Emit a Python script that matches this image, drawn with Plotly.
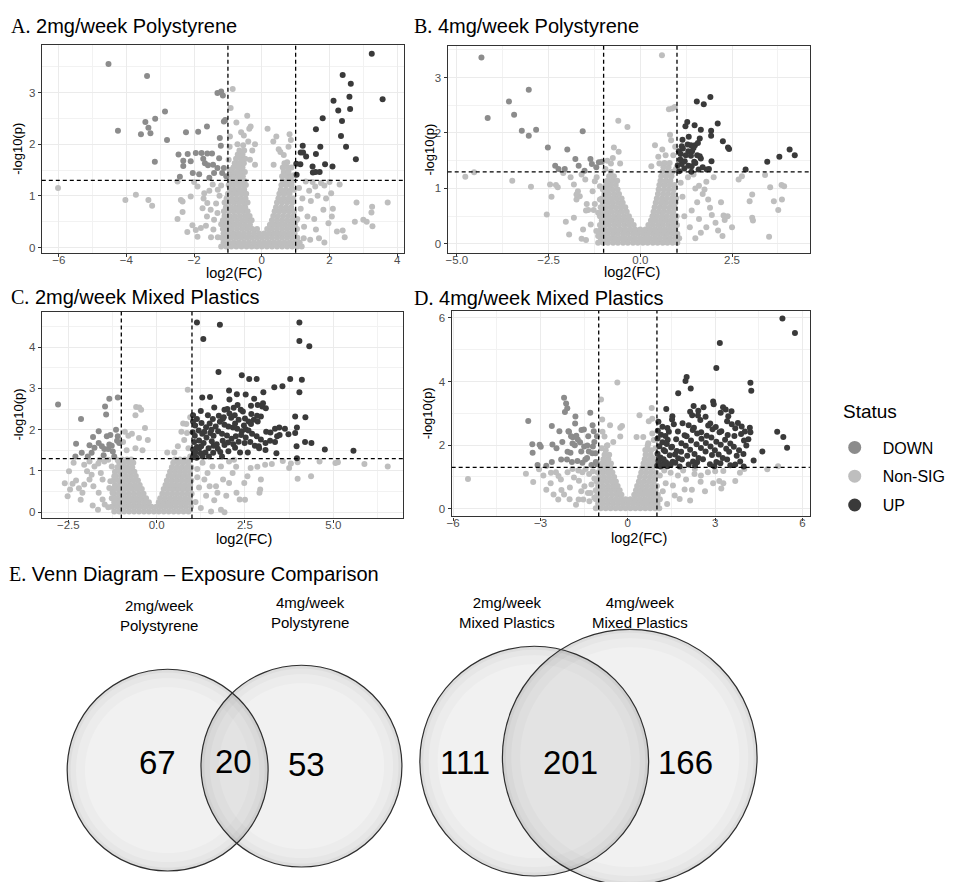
import math
import plotly.graph_objects as go

W, H = 964, 882

# significance thresholds used in every volcano panel
FC_CUT = 1.0
P_CUT = 1.3

STATUS = ["DOWN", "Non-SIG", "UP"]
STATUS_COLORS = {"DOWN": "#8c8c8c", "Non-SIG": "#bebebe", "UP": "#3a3a3a"}

PANEL_LETTERS = ["A.", "B.", "C.", "D."]
PANEL_NAMES = ["2mg/week Polystyrene", "4mg/week Polystyrene",
               "2mg/week Mixed Plastics", "4mg/week Mixed Plastics"]

# ---------------- Panel A: 2mg/week Polystyrene ----------------
A_up = [(3.25, 3.75), (2.39, 3.34), (2.63, 3.17), (2.59, 2.92), (2.61, 2.68), (3.57, 2.87),
        (2.12, 2.84), (2.26, 2.65), (2.37, 2.45), (1.80, 2.50), (1.60, 2.29), (2.34, 2.16),
        (2.49, 1.95), (2.78, 1.71), (1.21, 1.97), (1.73, 1.95), (1.15, 1.84), (1.22, 1.84),
        (1.31, 1.76), (1.60, 1.81), (1.87, 1.61), (2.09, 1.57), (1.50, 1.57), (1.02, 1.62),
        (1.14, 1.61), (1.51, 1.45), (1.59, 1.46), (1.71, 1.46), (1.03, 1.41)]
A_down = [(-4.53, 3.55), (-3.39, 3.32), (-4.25, 2.26), (-2.86, 2.63), (-3.44, 2.43), (-3.35, 2.32),
          (-3.57, 2.19), (-3.29, 2.21), (-3.15, 2.49), (-2.80, 2.08), (-3.16, 1.66), (-2.24, 2.23),
          (-1.88, 2.24), (-1.62, 2.34), (-2.46, 1.80), (-2.19, 1.81), (-2.32, 1.68), (-2.10, 1.67),
          (-2.32, 1.58), (-1.95, 1.83), (-1.78, 1.83), (-1.61, 1.82), (-1.47, 1.82), (-1.73, 1.72),
          (-1.68, 1.63), (-1.59, 1.59), (-1.44, 1.60), (-1.31, 2.99), (-1.20, 3.02), (-1.15, 2.94),
          (-1.08, 2.47), (-1.12, 2.44), (-1.24, 2.12), (-1.21, 1.97), (-1.26, 1.73), (-1.31, 1.54),
          (-1.41, 1.44), (-1.12, 1.54), (-1.17, 1.44), (-2.04, 1.44), (-2.42, 1.37), (-1.85, 1.42),
          (-1.55, 1.35), (-1.05, 1.38)]
A_ns = [(-6.02, 1.15), (-4.03, 0.92), (-3.72, 1.02), (-3.35, 0.92), (-3.24, 0.81), (-2.49, 1.28),
        (-2.39, 0.92), (-2.34, 0.89), (-2.34, 0.69), (-2.49, 0.55), (-2.10, 0.99), (-2.00, 1.27),
        (-1.90, 1.18), (-1.70, 1.05), (-1.75, 0.76), (-1.61, 0.86), (-1.51, 0.73), (-1.41, 0.54),
        (-1.90, 0.21), (-1.95, 0.34), (-2.05, 0.43), (-1.80, 0.38), (-1.31, 0.67), (-1.43, 0.35),
        (-1.30, 0.20), (-1.55, 1.10), (-1.45, 1.22), (-1.62, 0.60), (-1.25, 1.00), (-1.35, 0.85),
        (-1.20, 0.45), (-1.72, 0.95), (-1.20, 1.20), (-1.30, 1.12), (-2.20, 0.30), (-1.65, 0.42),
        (-1.50, 0.20), (-0.86, 3.07), (-0.92, 2.70), (-0.43, 2.55), (-0.75, 2.42), (-0.33, 2.34),
        (-0.37, 2.30), (-0.61, 2.23), (-0.53, 2.17), (-0.94, 2.15), (0.17, 2.30), (0.43, 2.15),
        (0.82, 2.19), (0.86, 2.08), (0.79, 1.95), (0.65, 1.79), (0.55, 1.85), (0.34, 2.05),
        (0.50, 1.90), (-0.40, 2.05), (-0.20, 2.00), (-0.55, 1.98), (-0.28, 1.88), (-0.72, 2.00),
        (-0.95, 1.95), (-0.98, 1.70), (-0.95, 1.50), (0.95, 1.40), (0.88, 1.55), (0.75, 1.65),
        (-0.35, 1.70), (-0.20, 1.60), (0.35, 1.60), (2.80, 0.87), (3.26, 0.79), (3.24, 0.68),
        (3.72, 0.87), (3.00, 0.54), (3.10, 0.50), (3.27, 0.41), (2.75, 0.50), (1.82, 0.73),
        (2.07, 0.60), (1.97, 0.47), (2.22, 0.31), (2.39, 0.33), (1.69, 0.18), (1.43, 0.15),
        (1.24, 0.18), (1.58, 1.18), (1.85, 1.20), (2.05, 1.05), (1.65, 1.00), (1.45, 0.90),
        (1.30, 1.28), (1.50, 1.27), (1.75, 1.25), (2.00, 1.27), (2.30, 1.22), (1.20, 0.95),
        (1.35, 0.60), (1.55, 0.55), (1.25, 0.40), (1.60, 0.35), (1.10, 1.15), (1.15, 0.75),
        (2.10, 0.75), (2.45, 0.20), (1.85, 0.10), (1.05, 0.55), (1.40, 1.10), (1.90, 0.95)]
# dense centre of the volcano, listed row by row as (-log10 p, [log2 FC ...])
A_ns_core = [
    (0.02, [-1.20, -1.05, -0.90, -0.75, -0.60, -0.45, -0.30, -0.15, 0.00, 0.15, 0.30, 0.45, 0.60, 0.75, 0.90, 1.05, 1.18]),
    (0.10, [-1.13, -0.98, -0.83, -0.68, -0.53, -0.38, -0.23, -0.08, 0.07, 0.22, 0.37, 0.52, 0.67, 0.82, 0.97, 1.12]),
    (0.19, [-1.18, -1.05, -0.90, -0.75, -0.60, -0.45, -0.30, -0.15, 0.00, 0.15, 0.30, 0.45, 0.60, 0.75, 0.90, 1.05]),
    (0.27, [-1.13, -0.98, -0.83, -0.68, -0.53, -0.38, -0.23, -0.08, 0.07, 0.22, 0.37, 0.52, 0.67, 0.82, 0.97]),
    (0.36, [-1.15, -1.02, -0.88, -0.73, -0.58, -0.43, -0.28, -0.14, 0.16, 0.30, 0.45, 0.60, 0.75, 0.90, 1.04]),
    (0.44, [-1.10, -0.95, -0.80, -0.65, -0.50, -0.35, 0.24, 0.38, 0.53, 0.68, 0.83, 0.98]),
    (0.53, [-1.15, -1.02, -0.88, -0.73, -0.58, -0.43, -0.30, 0.30, 0.45, 0.60, 0.75, 0.90, 1.02]),
    (0.61, [-1.10, -0.95, -0.80, -0.65, -0.50, -0.36, 0.34, 0.48, 0.63, 0.78, 0.93]),
    (0.70, [-1.12, -0.98, -0.84, -0.70, -0.56, -0.42, 0.38, 0.52, 0.67, 0.82, 0.95]),
    (0.78, [-1.06, -0.91, -0.77, -0.63, -0.49, 0.42, 0.57, 0.72, 0.87]),
    (0.87, [-1.10, -0.96, -0.82, -0.68, -0.54, -0.42, 0.45, 0.60, 0.75, 0.90]),
    (0.95, [-1.04, -0.89, -0.75, -0.61, -0.48, 0.49, 0.64, 0.79, 0.93]),
    (1.04, [-1.00, -0.86, -0.72, -0.58, -0.46, 0.52, 0.67, 0.82]),
    (1.12, [-0.94, -0.80, -0.66, -0.52, 0.56, 0.71, 0.86, 0.95]),
    (1.21, [-0.98, -0.85, -0.71, -0.58, -0.47, 0.58, 0.73, 0.88]),
    (1.29, [-0.92, -0.78, -0.64, -0.51, 0.62, 0.77, 0.90]),
    (1.38, [-0.94, -0.82, -0.69, -0.56, 0.60, 0.74, 0.86]),
    (1.46, [-0.88, -0.74, -0.61, -0.50, 0.65, 0.79]),
    (1.55, [-0.84, -0.70, -0.57, 0.62, 0.76]),
    (1.63, [-0.80, -0.66, -0.53, 0.67]),
    (1.72, [-0.76, -0.62, -0.49]),
    (1.80, [-0.71, -0.57]),
    (1.88, [-0.66, -0.52]),
]

# ---------------- Panel B: 4mg/week Polystyrene ----------------
B_up = [(1.28, 2.20), (1.54, 2.57), (1.73, 2.52), (1.91, 2.65), (2.11, 2.17), (1.93, 2.04),
        (1.93, 1.95), (2.25, 1.85), (2.39, 1.74), (2.42, 1.71), (1.23, 2.12), (1.48, 2.14),
        (1.65, 2.06), (1.62, 1.90), (1.32, 1.93), (1.15, 1.88), (1.13, 1.76), (1.38, 1.78),
        (1.49, 1.78), (1.05, 1.67), (1.31, 1.67), (1.41, 1.67), (1.24, 1.60), (1.38, 1.59),
        (1.62, 1.58), (1.65, 1.54), (1.47, 1.48), (1.50, 1.46), (1.13, 1.44), (1.31, 1.41),
        (1.40, 1.40), (1.59, 1.34), (1.81, 1.34), (1.87, 1.35), (1.94, 1.49), (1.06, 1.31),
        (1.39, 1.30), (2.87, 1.34), (3.46, 1.48), (3.79, 1.57), (4.07, 1.70), (4.21, 1.60),
        (1.16, 1.72), (1.29, 1.79), (1.45, 1.73), (1.57, 1.82), (1.09, 1.52), (1.21, 1.49),
        (1.02, 1.42), (1.70, 1.38), (1.20, 1.36), (1.55, 1.60), (1.10, 1.62)]
B_down = [(-4.33, 3.36), (-4.16, 2.27), (-3.58, 2.57), (-3.44, 2.33), (-3.04, 2.78), (-3.23, 2.04),
          (-3.04, 1.95), (-2.84, 2.06), (-2.52, 1.74), (-1.99, 1.70), (-2.32, 1.41), (-2.23, 1.35),
          (-2.06, 1.35), (-1.77, 1.53), (-1.68, 1.41), (-1.57, 2.03), (-1.36, 1.53), (-1.32, 1.44),
          (-1.52, 1.32), (-1.13, 1.47), (-1.05, 1.48), (-1.20, 1.38)]
B_ns = [(-4.77, 1.21), (-4.53, 1.29), (-3.49, 1.14), (-2.98, 1.03), (-2.46, 1.07), (-2.42, 0.85),
        (-2.30, 1.06), (-2.25, 1.02), (-2.55, 0.53), (-2.03, 0.40), (-1.94, 0.17), (-1.81, 0.47),
        (-1.74, 0.80), (-1.65, 0.86), (-1.74, 0.89), (-1.70, 0.95), (-1.81, 1.07), (-1.56, 0.26),
        (-1.60, 0.09), (-1.46, 0.72), (-1.48, 0.60), (-1.42, 0.61), (-1.24, 0.72), (-1.27, 0.61),
        (-1.15, 0.56), (-1.10, 1.04), (-1.19, 1.20), (-1.24, 1.13), (-1.50, 1.16), (-1.48, 0.07),
        (-1.20, 0.23), (-1.15, 0.14), (-1.05, 0.20), (-1.35, 0.35), (-1.10, 0.80), (-1.30, 0.95),
        (-1.90, 1.20), (-1.60, 1.25), (-2.10, 1.28), (0.59, 3.40), (-0.60, 2.22), (-0.35, 2.11),
        (0.78, 2.43), (0.87, 2.44), (0.94, 2.47), (0.81, 1.97), (0.84, 1.87), (0.40, 1.78),
        (-0.72, 1.74), (-0.59, 1.66), (0.49, 1.57), (0.52, 1.45), (0.69, 1.60), (-0.90, 1.50),
        (-0.80, 1.45), (-0.55, 1.45), (0.60, 1.70), (0.95, 1.75), (0.90, 1.60), (0.97, 1.35),
        (0.30, 1.40), (-0.75, 1.55), (-0.95, 1.35), (3.40, 1.24), (3.54, 1.02), (3.85, 1.06),
        (3.92, 1.04), (3.86, 0.80), (3.64, 0.77), (3.76, 0.61), (3.51, 0.13), (3.05, 0.89),
        (2.98, 0.77), (3.05, 0.47), (3.07, 0.42), (2.77, 1.22), (2.68, 1.16), (2.27, 0.51),
        (2.30, 0.43), (2.12, 0.24), (2.24, 0.14), (1.90, 0.65), (1.95, 0.52), (2.05, 0.38),
        (1.70, 0.90), (1.75, 0.98), (1.60, 1.05), (1.50, 1.00), (1.80, 1.12), (2.00, 1.20),
        (1.30, 1.20), (1.45, 1.25), (1.85, 0.80), (1.55, 0.75), (1.40, 0.60), (1.60, 0.45),
        (1.80, 0.30), (1.35, 0.30), (1.20, 0.50), (1.15, 0.85), (1.10, 1.10), (2.20, 0.75),
        (1.65, 0.20), (1.50, 0.10), (2.50, 0.30), (2.38, 0.50)]
B_ns_core = [
    (0.02, [-1.15, -1.01, -0.88, -0.74, -0.61, -0.47, -0.34, -0.20, -0.07, 0.07, 0.20, 0.34, 0.47, 0.61, 0.74, 0.88, 1.01]),
    (0.10, [-1.08, -0.95, -0.81, -0.68, -0.54, -0.41, -0.27, -0.14, 0.00, 0.14, 0.27, 0.41, 0.54, 0.68, 0.81, 0.95, 1.06]),
    (0.18, [-1.12, -1.01, -0.88, -0.74, -0.61, -0.47, -0.34, -0.20, -0.07, 0.07, 0.20, 0.34, 0.47, 0.61, 0.74, 0.88, 1.01]),
    (0.26, [-1.08, -0.95, -0.81, -0.68, -0.54, -0.41, -0.27, -0.14, 0.00, 0.14, 0.27, 0.41, 0.54, 0.68, 0.81, 0.95]),
    (0.34, [-1.10, -0.98, -0.85, -0.71, -0.58, -0.44, -0.31, -0.18, 0.22, 0.35, 0.49, 0.62, 0.76, 0.89, 1.00]),
    (0.42, [-1.05, -0.91, -0.78, -0.64, -0.51, -0.37, -0.25, 0.29, 0.42, 0.56, 0.69, 0.83, 0.96]),
    (0.50, [-1.10, -0.98, -0.85, -0.71, -0.58, -0.44, -0.31, 0.33, 0.46, 0.60, 0.73, 0.87, 0.99]),
    (0.58, [-1.04, -0.91, -0.78, -0.64, -0.51, -0.37, 0.36, 0.50, 0.63, 0.77, 0.90]),
    (0.66, [-1.08, -0.95, -0.81, -0.68, -0.54, -0.41, 0.39, 0.53, 0.66, 0.80, 0.93]),
    (0.74, [-1.02, -0.88, -0.75, -0.61, -0.48, 0.42, 0.56, 0.69, 0.83, 0.96]),
    (0.82, [-1.05, -0.92, -0.78, -0.65, -0.51, 0.45, 0.59, 0.72, 0.86, 0.98]),
    (0.90, [-0.98, -0.85, -0.71, -0.58, 0.48, 0.62, 0.75, 0.89]),
    (0.98, [-1.02, -0.89, -0.76, -0.62, 0.50, 0.64, 0.77, 0.91]),
    (1.06, [-0.94, -0.81, -0.67, 0.52, 0.66, 0.80, 0.93]),
    (1.14, [-0.90, -0.76, -0.63, 0.55, 0.69, 0.82]),
    (1.22, [-0.85, -0.72, 0.57, 0.71, 0.85]),
    (1.30, [-0.80, 0.60, 0.74, 0.88]),
    (1.38, [0.63, 0.77]),
    (1.46, [0.66, 0.80]),
]

# ---------------- Panel C: 2mg/week Mixed Plastics ----------------
C_up = [(1.14, 4.60), (1.79, 4.54), (1.32, 4.20), (4.04, 4.60), (4.04, 4.15), (4.32, 4.02),
        (1.75, 3.40), (2.41, 3.32), (2.62, 3.23), (2.83, 3.23), (3.33, 3.03), (3.56, 3.05),
        (3.78, 3.23), (4.11, 3.21), (4.04, 2.91), (1.29, 2.78), (1.51, 2.79), (2.05, 2.95),
        (2.27, 2.86), (2.52, 2.85), (3.02, 2.91), (2.76, 2.75), (2.06, 2.73), (3.01, 2.64),
        (2.99, 2.56), (3.09, 2.52), (2.67, 2.58), (2.86, 2.60), (2.29, 2.60), (2.18, 2.53),
        (2.38, 2.48), (2.44, 2.44), (1.63, 2.54), (1.92, 2.48), (2.06, 2.39), (1.76, 2.34),
        (1.59, 2.26), (1.87, 2.26), (2.11, 2.29), (2.21, 2.35), (2.32, 2.24), (2.50, 2.27),
        (2.68, 2.38), (2.75, 2.24), (2.84, 2.34), (2.95, 2.32), (2.86, 2.20), (2.67, 2.14),
        (2.47, 2.10), (2.22, 2.15), (2.28, 2.02), (2.41, 1.96), (2.52, 2.01), (2.60, 1.98),
        (2.16, 2.05), (2.03, 2.08), (1.92, 2.12), (1.79, 2.19), (1.67, 2.08), (1.50, 2.15),
        (1.40, 2.06), (1.27, 2.16), (1.03, 2.35), (1.14, 2.26), (1.03, 2.20), (1.09, 2.10),
        (1.02, 1.94), (1.08, 1.85), (1.19, 1.98), (1.29, 1.90), (1.41, 1.81), (1.52, 1.92),
        (1.61, 1.85), (1.74, 1.96), (1.85, 1.90), (1.99, 1.86), (2.12, 1.78), (2.24, 1.84),
        (2.39, 1.87), (2.52, 1.81), (2.70, 1.90), (2.83, 1.84), (2.95, 1.76), (3.08, 1.68),
        (3.21, 1.73), (3.22, 1.93), (3.35, 2.02), (3.47, 2.05), (3.41, 1.84), (3.35, 1.70),
        (3.48, 1.87), (3.63, 2.02), (3.73, 1.89), (3.92, 1.92), (3.97, 2.05), (4.21, 2.30),
        (3.92, 2.32), (4.20, 1.70), (3.96, 1.60), (3.97, 1.31), (4.38, 1.68), (4.76, 1.52),
        (5.57, 1.49), (3.39, 1.43), (2.89, 1.60), (3.08, 1.51), (2.78, 1.61), (2.65, 1.70),
        (2.49, 1.68), (2.36, 1.45), (2.22, 1.56), (2.03, 1.48), (1.92, 1.63), (1.80, 1.46),
        (1.73, 1.54), (1.61, 1.61), (1.47, 1.55), (1.38, 1.45), (1.25, 1.43), (1.14, 1.58),
        (1.03, 1.52), (1.05, 1.40), (1.13, 1.32), (1.30, 1.35), (1.48, 1.35), (1.60, 1.44),
        (1.85, 1.35), (1.06, 1.70), (1.20, 1.74), (1.33, 1.68), (1.56, 1.72), (1.87, 1.73),
        (2.02, 1.69), (2.17, 1.65), (2.32, 1.71), (1.26, 1.60), (1.02, 1.33), (1.10, 1.45),
        (1.20, 1.55), (1.35, 1.95), (1.55, 2.00), (1.70, 1.65), (2.58, 1.45), (2.90, 1.55),
        (3.10, 1.95), (2.60, 2.20), (2.00, 2.50), (1.90, 2.30), (1.45, 2.35), (1.25, 2.45)]
C_down = [(-2.79, 2.61), (-2.14, 2.26), (-2.28, 1.66), (-2.12, 1.44), (-1.80, 1.82), (-1.64, 1.68),
          (-1.46, 2.56), (-1.43, 2.37), (-1.34, 2.75), (-1.10, 2.78), (-1.41, 1.84), (-1.31, 1.87),
          (-1.55, 1.60), (-1.48, 1.53), (-1.37, 1.53), (-1.27, 1.61), (-1.24, 1.47), (-1.34, 1.64),
          (-1.10, 1.84), (-1.12, 1.73), (-1.06, 1.68), (-1.95, 1.35), (-1.84, 1.44), (-1.64, 1.96),
          (-1.76, 1.56), (-1.20, 1.35), (-1.50, 1.38), (-2.30, 1.35), (-1.90, 1.62), (-1.15, 2.00)]
C_ns = [(-2.52, 0.39), (-2.48, 0.99), (-2.38, 0.69), (-2.28, 0.77), (-2.20, 0.58), (-2.10, 0.47),
        (-2.05, 0.67), (-1.90, 0.79), (-1.84, 0.91), (-1.97, 0.99), (-1.76, 1.11), (-1.65, 1.18),
        (-1.58, 0.95), (-1.53, 0.79), (-1.79, 0.63), (-1.64, 0.47), (-1.53, 0.31), (-1.81, 0.16),
        (-1.66, 0.06), (-1.47, 0.19), (-1.37, 0.12), (-1.20, 0.31), (-1.25, 0.47), (-1.34, 0.59),
        (-1.31, 0.75), (-1.20, 0.87), (-1.27, 1.11), (-1.10, 1.26), (-1.02, 1.25), (-1.37, 1.27),
        (-1.48, 1.23), (-1.61, 1.27), (-1.90, 1.23), (-2.05, 1.15), (-2.35, 1.20), (-2.60, 0.70),
        (-2.45, 0.55), (-2.15, 0.30), (0.88, 2.97), (-0.58, 2.55), (-0.49, 2.54), (-0.44, 2.48),
        (-0.60, 2.35), (-0.33, 2.04), (-0.80, 1.85), (-0.90, 1.95), (-0.95, 1.70), (-0.70, 1.90),
        (-0.50, 1.80), (-0.25, 1.75), (0.75, 2.15), (0.84, 2.14), (0.86, 1.92), (0.78, 1.75),
        (0.60, 1.60), (0.90, 1.55), (0.95, 2.30), (0.70, 1.95), (0.50, 1.45), (0.30, 1.45),
        (-0.85, 1.50), (-0.60, 1.55), (-0.40, 1.50), (0.95, 1.35), (2.93, 0.55), (2.95, 0.79),
        (2.91, 0.47), (2.35, 0.31), (2.26, 0.47), (2.48, 0.71), (2.57, 0.87), (2.66, 1.07),
        (2.85, 1.10), (3.07, 1.15), (3.26, 1.17), (3.57, 1.24), (3.80, 1.18), (3.99, 1.21),
        (3.99, 0.81), (4.37, 0.87), (4.61, 1.23), (5.06, 1.19), (5.13, 1.21), (5.88, 1.17),
        (6.54, 1.11), (3.75, 1.07), (1.82, 0.06), (1.54, 0.02), (1.92, 0.00), (1.63, 0.29),
        (1.72, 0.47), (1.68, 0.63), (1.88, 0.79), (1.50, 0.63), (1.35, 0.79), (1.44, 0.95),
        (1.58, 1.11), (1.82, 1.11), (2.05, 1.23), (2.19, 1.27), (2.15, 0.95), (2.05, 0.71),
        (1.97, 0.40), (2.25, 1.10), (1.30, 1.20), (1.15, 1.05), (1.20, 0.60), (1.40, 0.40),
        (1.10, 0.25), (1.25, 0.10), (2.50, 0.30), (1.15, 0.85)]
C_ns_core = [
    (0.02, [-1.20, -1.06, -0.92, -0.78, -0.64, -0.50, -0.36, -0.22, -0.08, 0.06, 0.20, 0.34, 0.48, 0.62, 0.76, 0.90]),
    (0.13, [-1.27, -1.13, -0.99, -0.85, -0.71, -0.57, -0.43, -0.29, -0.15, -0.01, 0.13, 0.27, 0.41, 0.55, 0.69, 0.83, 0.97]),
    (0.24, [-1.20, -1.06, -0.92, -0.78, -0.64, -0.50, -0.36, -0.22, 0.06, 0.20, 0.34, 0.48, 0.62, 0.76, 0.90]),
    (0.34, [-1.27, -1.13, -0.99, -0.85, -0.71, -0.57, -0.43, -0.30, 0.10, 0.24, 0.38, 0.52, 0.66, 0.80, 0.94]),
    (0.45, [-1.20, -1.06, -0.92, -0.78, -0.64, -0.50, -0.37, 0.16, 0.30, 0.44, 0.58, 0.72, 0.86, 0.99]),
    (0.56, [-1.25, -1.11, -0.97, -0.83, -0.69, -0.55, -0.42, 0.20, 0.34, 0.48, 0.62, 0.76, 0.90]),
    (0.66, [-1.18, -1.04, -0.90, -0.76, -0.62, -0.48, 0.25, 0.39, 0.53, 0.67, 0.81, 0.95]),
    (0.77, [-1.22, -1.08, -0.94, -0.80, -0.66, -0.53, 0.29, 0.43, 0.57, 0.71, 0.85, 0.98]),
    (0.88, [-1.15, -1.01, -0.87, -0.73, -0.59, 0.34, 0.48, 0.62, 0.76, 0.90]),
    (0.98, [-1.18, -1.04, -0.90, -0.76, -0.63, 0.38, 0.52, 0.66, 0.80, 0.94]),
    (1.09, [-1.11, -0.97, -0.83, -0.69, 0.43, 0.57, 0.71, 0.85, 0.98]),
    (1.20, [-1.06, -0.92, -0.78, -0.66, 0.47, 0.61, 0.75, 0.89]),
    (1.28, [-0.98, -0.84, -0.72, 0.52, 0.66, 0.80, 0.94]),
]

# ---------------- Panel D: 4mg/week Mixed Plastics ----------------
D_up = [(5.31, 5.98), (5.74, 5.53), (3.16, 5.21), (3.04, 4.43), (2.02, 4.14), (1.98, 4.02),
        (2.16, 3.78), (1.73, 3.63), (4.21, 3.96), (4.24, 3.71), (1.32, 3.14), (1.53, 2.91),
        (2.26, 3.23), (2.42, 3.08), (2.60, 3.19), (2.14, 3.05), (2.21, 2.94), (2.93, 3.37),
        (2.95, 3.29), (3.27, 3.19), (3.36, 3.12), (3.56, 3.07), (3.19, 3.02), (3.45, 2.91),
        (2.67, 2.89), (2.41, 2.93), (5.13, 2.42), (5.34, 2.26), (5.47, 1.92), (4.62, 1.80),
        (4.32, 1.52),
        (1.05, 2.74), (1.52, 2.81), (1.88, 2.69), (2.49, 2.79), (2.83, 2.68), (3.41, 2.75), (3.78, 2.70),
        (1.19, 2.58), (1.58, 2.66), (2.09, 2.63), (2.27, 2.55), (2.76, 2.62), (3.02, 2.57), (3.57, 2.66),
        (3.91, 2.59), (4.19, 2.55), (1.03, 2.45), (1.36, 2.54), (1.72, 2.43), (2.23, 2.48), (2.52, 2.41),
        (2.91, 2.50), (3.21, 2.44), (3.69, 2.53), (4.02, 2.43), (1.14, 2.33), (1.41, 2.42), (1.95, 2.31),
        (2.38, 2.37), (2.71, 2.30), (3.15, 2.41), (3.43, 2.32), (3.89, 2.35), (4.21, 2.41), (1.02, 2.21),
        (1.29, 2.29), (1.66, 2.19), (2.02, 2.28), (2.53, 2.20), (2.87, 2.24), (3.34, 2.17), (3.66, 2.29),
        (4.14, 2.19), (1.19, 2.09), (1.37, 2.17), (1.84, 2.06), (2.17, 2.15), (2.68, 2.07), (3.04, 2.11),
        (3.52, 2.05), (3.99, 2.15), (1.08, 1.97), (1.34, 2.04), (1.52, 1.95), (1.99, 1.98), (2.36, 2.03),
        (2.84, 1.96), (3.19, 2.01), (3.64, 1.95), (4.07, 1.99), (1.23, 1.85), (1.49, 1.93), (1.68, 1.82),
        (2.14, 1.86), (2.51, 1.91), (2.99, 1.84), (3.38, 1.89), (3.82, 1.84), (1.02, 1.73), (1.28, 1.81),
        (1.62, 1.71), (1.83, 1.79), (2.29, 1.72), (2.67, 1.80), (3.12, 1.71), (3.48, 1.79), (3.97, 1.72),
        (1.12, 1.61), (1.44, 1.68), (1.73, 1.59), (2.04, 1.67), (2.43, 1.60), (2.89, 1.69), (3.26, 1.60),
        (3.74, 1.67), (1.05, 1.50), (1.23, 1.56), (1.54, 1.48), (1.86, 1.55), (2.24, 1.49), (2.58, 1.56),
        (3.04, 1.47), (3.41, 1.55), (3.86, 1.49), (1.08, 1.44), (1.17, 1.39), (1.31, 1.46), (1.42, 1.40),
        (1.63, 1.45), (2.09, 1.39), (2.38, 1.46), (2.82, 1.40), (3.18, 1.43), (3.69, 1.39), (1.01, 1.35),
        (1.12, 1.33), (1.22, 1.37), (1.36, 1.34), (1.47, 1.38), (1.78, 1.33), (2.31, 1.36), (2.97, 1.34),
        (3.52, 1.37), (3.98, 1.33)]
D_down = [(-3.42, 2.76), (-3.28, 2.03), (-3.03, 2.01), (-2.99, 1.95), (-3.27, 1.76), (-2.61, 2.60),
          (-2.59, 2.02), (-2.19, 3.49), (-2.12, 3.31), (-2.08, 3.16), (-2.16, 3.04), (-1.80, 2.90),
          (-1.81, 2.68), (-2.35, 2.44), (-2.04, 2.44), (-2.02, 2.42), (-1.95, 2.28), (-1.89, 2.25),
          (-1.77, 2.30), (-1.59, 2.48), (-1.51, 2.49), (-1.72, 2.18), (-1.64, 2.09), (-1.50, 1.96),
          (-1.39, 1.99), (-1.20, 1.96), (-1.34, 1.80), (-1.22, 1.75), (-1.11, 1.75), (-1.29, 3.02),
          (-1.21, 2.63), (-1.17, 2.44), (-1.82, 2.00), (-1.97, 1.76), (-2.07, 1.79), (-2.29, 1.55),
          (-2.09, 1.55), (-1.92, 1.47), (-1.73, 1.50), (-1.56, 1.45), (-1.46, 1.55), (-1.10, 1.47),
          (-1.06, 1.40), (-1.06, 2.28), (-1.36, 2.28), (-2.61, 1.47), (-2.45, 1.90), (-2.25, 2.10),
          (-1.90, 2.05), (-1.60, 1.80), (-1.40, 1.60), (-1.15, 2.10), (-2.80, 1.35), (-3.10, 1.38),
          (-1.25, 1.38)]
D_ns = [(-5.49, 0.94), (-3.25, 0.84), (-3.05, 1.24), (-2.64, 1.13), (-2.38, 1.03), (-2.30, 0.92),
        (-2.28, 0.59), (-2.19, 0.45), (-2.39, 0.29), (-1.99, 0.67), (-1.85, 0.98), (-1.68, 0.88),
        (-1.56, 1.15), (-1.49, 0.71), (-1.37, 0.50), (-1.69, 0.29), (-1.78, 0.13), (-1.53, 0.29),
        (-1.32, 0.24), (-1.28, 0.50), (-1.25, 0.76), (-1.33, 1.09), (-2.47, 1.15), (-2.07, 1.15),
        (-1.90, 1.25), (-1.70, 1.20), (-1.45, 1.25), (-1.20, 1.18), (-2.65, 0.80), (-2.90, 1.05),
        (-2.55, 0.45), (-2.00, 0.30), (-1.60, 0.55), (-1.15, 0.95), (-1.15, 0.35), (-3.50, 1.10),
        (-2.80, 0.60), (-0.36, 3.97), (-0.92, 3.44), (-0.20, 2.60), (-0.26, 2.55), (-0.61, 2.63),
        (-0.88, 2.81), (-0.87, 2.42), (0.40, 2.94), (0.82, 3.17), (0.84, 2.83), (0.72, 2.75),
        (0.30, 2.26), (0.53, 2.26), (0.70, 2.06), (0.89, 2.16), (0.84, 2.37), (-0.80, 2.27),
        (-0.26, 2.27), (-0.50, 2.10), (-0.70, 2.00), (0.95, 1.90), (0.60, 1.85), (-0.90, 1.90),
        (0.85, 1.60), (3.69, 0.87), (3.14, 0.87), (3.21, 0.64), (2.93, 0.80), (3.28, 0.80),
        (5.16, 1.34), (4.79, 1.24), (3.85, 1.13), (3.28, 1.19), (3.00, 1.18), (2.75, 1.15),
        (2.51, 1.05), (2.29, 1.09), (2.00, 0.92), (1.95, 0.61), (2.14, 0.26), (1.78, 0.31),
        (1.61, 0.42), (1.55, 0.73), (1.72, 1.05), (1.47, 1.13), (1.30, 0.80), (1.20, 0.55),
        (1.10, 0.30), (1.35, 0.15), (1.90, 1.20), (2.30, 1.25), (2.50, 0.85), (2.65, 0.55),
        (1.25, 1.20), (1.10, 1.05), (4.00, 1.25), (2.20, 0.60)]
D_ns_core = [
    (0.02, [-1.10, -0.93, -0.76, -0.59, -0.42, -0.25, -0.08, 0.09, 0.26, 0.43, 0.60, 0.77, 0.94, 1.08]),
    (0.16, [-1.02, -0.85, -0.68, -0.51, -0.34, -0.17, 0.00, 0.17, 0.34, 0.51, 0.68, 0.85, 1.02]),
    (0.30, [-1.10, -0.93, -0.76, -0.59, -0.42, -0.25, -0.08, 0.09, 0.26, 0.43, 0.60, 0.77, 0.94]),
    (0.44, [-1.05, -0.88, -0.71, -0.54, -0.37, -0.22, 0.22, 0.36, 0.53, 0.70, 0.87, 1.03]),
    (0.58, [-1.10, -0.93, -0.76, -0.59, -0.42, -0.28, 0.28, 0.44, 0.61, 0.78, 0.95]),
    (0.72, [-1.02, -0.85, -0.68, -0.51, -0.35, 0.32, 0.49, 0.66, 0.83, 1.00]),
    (0.86, [-1.07, -0.90, -0.73, -0.56, -0.41, 0.38, 0.55, 0.72, 0.89]),
    (1.00, [-0.98, -0.81, -0.64, -0.47, 0.42, 0.59, 0.76, 0.93]),
    (1.14, [-1.03, -0.86, -0.69, -0.53, 0.46, 0.63, 0.80, 0.97]),
    (1.28, [-0.94, -0.77, -0.60, 0.50, 0.67, 0.84]),
    (1.42, [-0.90, -0.73, -0.58, 0.54, 0.71, 0.88]),
    (1.56, [-0.84, -0.67, 0.58, 0.75, 0.91]),
    (1.70, [-0.80, -0.64, 0.61, 0.78]),
    (1.84, [-0.76, 0.64, 0.80]),
    (1.98, [-0.72, 0.68]),
]

# ---------------- Panel E: Venn counts (only-first, shared, only-second) ----------------
VENN_PS_SETS = ["2mg/week<br>Polystyrene", "4mg/week<br>Polystyrene"]
VENN_PS_COUNTS = [67, 20, 53]
VENN_MP_SETS = ["2mg/week<br>Mixed Plastics", "4mg/week<br>Mixed Plastics"]
VENN_MP_COUNTS = [111, 201, 166]

SANS = "Liberation Sans, Arial, sans-serif"
SERIF = "Liberation Serif, Times New Roman, serif"


def px(x):
    return x / W


def py(y):
    return 1 - y / H


def split(points):
    return [p[0] for p in points], [p[1] for p in points]


def expand_rows(rows):
    xs, ys = [], []
    for y, row in rows:
        for x in row:
            xs.append(x)
            ys.append(y)
    return xs, ys


# panel frame (pixel boxes) and axis settings
panels = [
    dict(core=A_ns_core, ns=A_ns, down=A_down, up=A_up, box=(37, 45, 401, 253),
         xr=[-6.5, 4.2], yr=[-0.1, 3.92], xd=2, yd=1, xfmt="d",
         title_xy=(4, 26), ytitle_xy=(13, 149), xtitle_xy=(230, 273)),
    dict(core=B_ns_core, ns=B_ns, down=B_down, up=B_up, box=(445, 46, 809, 253),
         xr=[-5.25, 4.62], yr=[-0.16, 3.57], xd=2.5, yd=1, xfmt=".1f",
         title_xy=(409, 26), ytitle_xy=(427, 150), xtitle_xy=(630, 272)),
    dict(core=C_ns_core, ns=C_ns, down=C_down, up=C_up, box=(37, 312, 400, 519),
         xr=[-3.25, 6.97], yr=[-0.15, 4.86], xd=2.5, yd=1, xfmt=".1f",
         title_xy=(4, 297), ytitle_xy=(14, 415), xtitle_xy=(240, 540)),
    dict(core=D_ns_core, ns=D_ns, down=D_down, up=D_up, box=(449, 311, 809, 517),
         xr=[-6.05, 6.25], yr=[-0.24, 6.23], xd=3, yd=2, xfmt="d",
         title_xy=(409, 298), ytitle_xy=(425, 414), xtitle_xy=(637, 539)),
]

fig = go.Figure()
layout = dict(shapes=[], annotations=[])

# legend entries (one group per status so the gap between rows can be set)
for status in STATUS:
    fig.add_trace(go.Scatter(
        x=[None], y=[None], mode="markers", name=status, legendgroup=status,
        marker=dict(size=13, color=STATUS_COLORS[status]), showlegend=True))

for i, p in enumerate(panels):
    n = "" if i == 0 else str(i + 1)
    xa, ya = "x" + n, "y" + n
    cx, cy = expand_rows(p["core"])
    ox, oy = split(p["ns"])
    groups = [
        ("Non-SIG", cx + ox, cy + oy),
        ("DOWN",) + tuple(split(p["down"])),
        ("UP",) + tuple(split(p["up"])),
    ]
    for status, xs, ys in groups:
        fig.add_trace(go.Scatter(
            x=xs, y=ys, mode="markers", xaxis=xa, yaxis=ya,
            marker=dict(size=6, color=STATUS_COLORS[status], line=dict(width=0)),
            name=status, showlegend=False, hoverinfo="skip"))

    x0, y0, x1, y1 = p["box"]
    common = dict(showline=True, mirror=True, linecolor="#333333", linewidth=1.3,
                  ticks="outside", ticklen=3, tickwidth=1, tickcolor="#333333",
                  tickfont=dict(family=SANS, size=11.5, color="#4d4d4d"),
                  showgrid=True, gridcolor="#ebebeb", gridwidth=1, zeroline=False,
                  tick0=0)
    layout["xaxis" + n] = dict(
        domain=[px(x0), px(x1)], range=p["xr"], anchor=ya, dtick=p["xd"],
        tickformat=p["xfmt"], ticklabelstandoff=-7,
        minor=dict(showgrid=True, gridcolor="#f2f2f2", gridwidth=0.6, dtick=p["xd"] / 2),
        **common)
    layout["yaxis" + n] = dict(
        domain=[py(y1), py(y0)], range=p["yr"], anchor=xa, dtick=p["yd"],
        minor=dict(showgrid=True, gridcolor="#f2f2f2", gridwidth=0.6, dtick=p["yd"] / 2),
        **common)

    dash = dict(color="black", width=1.3, dash="4px,3px")
    for fc in (-FC_CUT, FC_CUT):
        layout["shapes"].append(dict(type="line", xref=xa, yref=ya + " domain",
                                     x0=fc, x1=fc, y0=0, y1=1, line=dash, layer="above"))
    layout["shapes"].append(dict(type="line", xref=xa + " domain", yref=ya,
                                 x0=0, x1=1, y0=P_CUT, y1=P_CUT, line=dash, layer="above"))

    tx, ty = p["title_xy"]
    layout["annotations"].append(dict(
        text=f'<span style="font-family:{SERIF}">{PANEL_LETTERS[i]}</span> {PANEL_NAMES[i]}',
        x=px(tx), y=py(ty), xref="paper", yref="paper", xanchor="left", yanchor="middle",
        showarrow=False, font=dict(family=SANS, size=20, color="black")))
    yx, yy = p["ytitle_xy"]
    layout["annotations"].append(dict(
        text="-log10(p)", x=px(yx), y=py(yy), xref="paper", yref="paper", textangle=-90,
        xanchor="center", yanchor="middle", showarrow=False,
        font=dict(family=SANS, size=13, color="black")))
    xx, xy = p["xtitle_xy"]
    layout["annotations"].append(dict(
        text="log2(FC)", x=px(xx), y=py(xy), xref="paper", yref="paper",
        xanchor="center", yanchor="middle", showarrow=False,
        font=dict(family=SANS, size=14.5, color="black")))

layout["annotations"].append(dict(
    text="Status", x=px(840), y=py(412), xref="paper", yref="paper", xanchor="left",
    yanchor="middle", showarrow=False, font=dict(family=SANS, size=19, color="black")))


# ---------------- Venn diagrams ----------------
def ring(cx, cy, r, reverse=False, n=120):
    pts = []
    for k in range(n):
        t = 2 * math.pi * k / n
        if reverse:
            t = -t
        pts.append(f"{px(cx + r * math.cos(t)):.5f},{py(cy + r * math.sin(t)):.5f}")
    return "M" + " L".join(pts) + " Z"


def add_circle(cx, cy, r):
    shapes = layout["shapes"]
    shapes.append(dict(type="path", xref="paper", yref="paper", path=ring(cx, cy, r),
                       fillcolor="rgba(0,0,0,0.055)", line=dict(width=0), layer="below"))
    for inner, alpha in ((r - 18, 0.02), (r - 9, 0.025), (r - 3.5, 0.035)):
        shapes.append(dict(type="path", xref="paper", yref="paper",
                           path=ring(cx, cy, r) + " " + ring(cx, cy, inner, reverse=True),
                           fillcolor=f"rgba(0,0,0,{alpha})", line=dict(width=0), layer="below"))


def add_outline(cx, cy, r):
    layout["shapes"].append(dict(type="circle", xref="paper", yref="paper",
                                 x0=px(cx - r), x1=px(cx + r), y0=py(cy + r), y1=py(cy - r),
                                 line=dict(color="#2e2e2e", width=1.2),
                                 fillcolor="rgba(0,0,0,0)", layer="below"))


venn_pairs = [
    dict(circles=[(163.5, 771, 101), (298, 767, 101)], sets=VENN_PS_SETS, counts=VENN_PS_COUNTS,
         label_xy=[(155, 616), (307, 613)], count_xy=[(153, 763), (230, 762), (303, 765)]),
    dict(circles=[(532, 762, 115), (628, 758, 128)], sets=VENN_MP_SETS, counts=VENN_MP_COUNTS,
         label_xy=[(505, 613), (638, 613)], count_xy=[(462, 763), (568, 763), (684, 763)]),
]
for vp in venn_pairs:
    for c in vp["circles"]:
        add_circle(*c)
    for c in vp["circles"]:
        add_outline(*c)
    for name, (lx, ly) in zip(vp["sets"], vp["label_xy"]):
        layout["annotations"].append(dict(
            text=name, x=px(lx), y=py(ly), xref="paper", yref="paper", showarrow=False,
            xanchor="center", yanchor="middle", align="center",
            font=dict(family=SANS, size=15, color="black")))
    for val, (nx, ny) in zip(vp["counts"], vp["count_xy"]):
        layout["annotations"].append(dict(
            text=str(val), x=px(nx), y=py(ny), xref="paper", yref="paper", showarrow=False,
            xanchor="center", yanchor="middle",
            font=dict(family=SANS, size=33, color="black")))

layout["annotations"].append(dict(
    text=f'<span style="font-family:{SERIF}">E.</span> Venn Diagram \u2013 Exposure Comparison',
    x=px(2), y=py(575), xref="paper", yref="paper", xanchor="left", yanchor="middle",
    showarrow=False, font=dict(family=SANS, size=20, color="black")))

fig.update_layout(
    width=W, height=H, margin=dict(l=0, r=0, t=0, b=0),
    paper_bgcolor="white", plot_bgcolor="white",
    font=dict(family=SANS, color="black"),
    legend=dict(x=px(826), y=py(431), xanchor="left", yanchor="top",
                font=dict(family=SANS, size=16, color="black"),
                itemwidth=46, tracegroupgap=5, traceorder="grouped",
                bgcolor="rgba(0,0,0,0)"),
    **layout)

fig.write_html("out.html", config=dict(displayModeBar=False))
